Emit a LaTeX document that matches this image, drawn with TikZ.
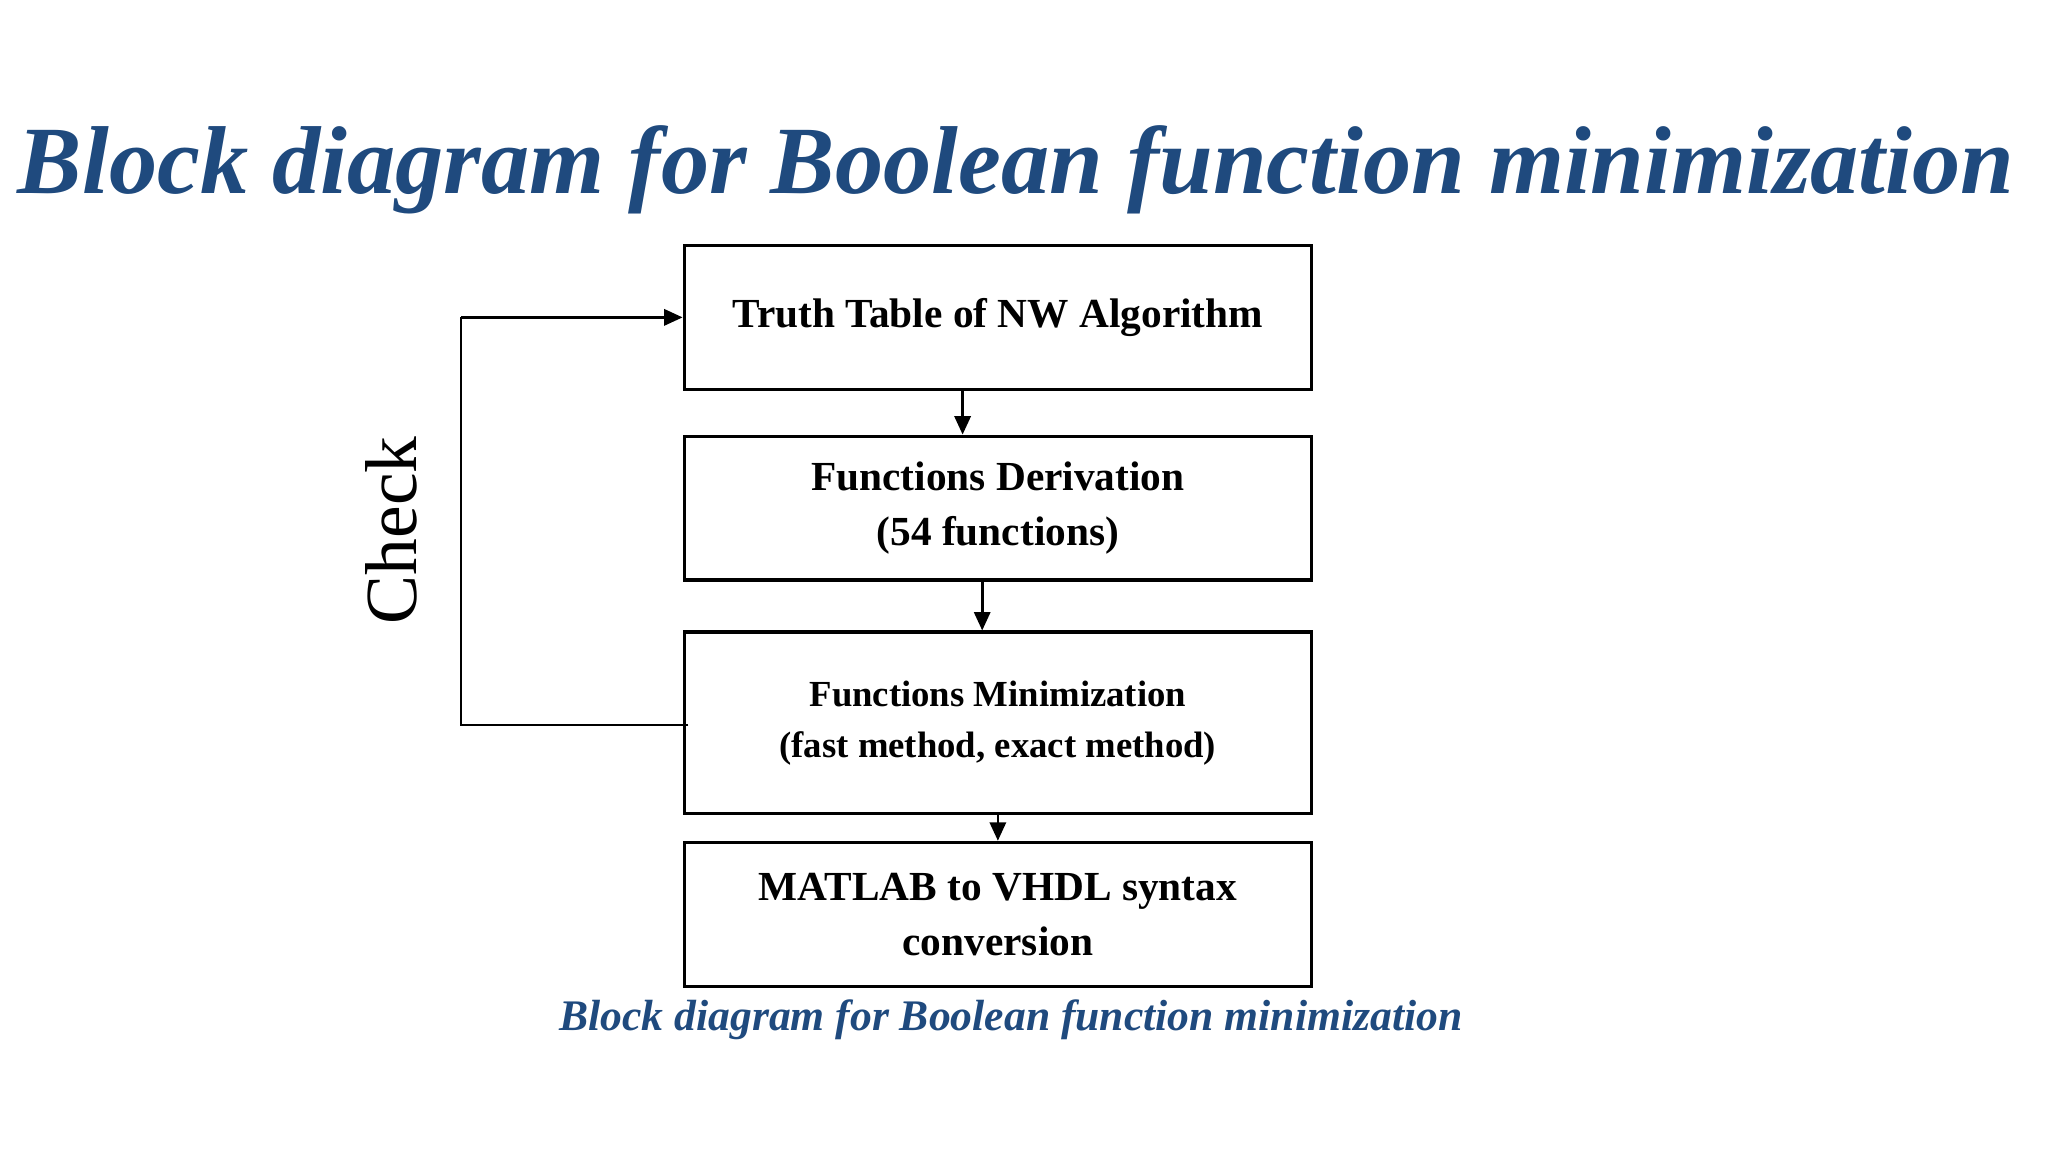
\documentclass[tikz,border=0pt]{standalone}
\usepackage{fontspec}
\setmainfont{Liberation Serif}
\usetikzlibrary{arrows.meta}
\definecolor{tblue}{HTML}{1F4A7E}
\begin{document}
\begin{tikzpicture}[x=0.01cm,y=-0.01cm,
  blk/.style={draw,line width=0.7pt,minimum width=4.8cm,align=center,font=\fontsize{9}{12}\selectfont\bfseries,inner sep=0pt},
  conn/.style={-{Triangle[length=4pt,width=3.5pt]},line width=0.6pt}]
\useasboundingbox (0,0) rectangle (1568,882);
\node[font=\fontsize{21}{24}\selectfont\bfseries\itshape,text=tblue] (title) at (778,130) {Block diagram for Boolean function minimization};
\node[blk,minimum height=1.1cm] (b1) at (764,243) {Truth Table of NW Algorithm};
\node[blk,minimum height=1.1cm] (b2) at (764,389) {Functions Derivation\\(54 functions)};
\node[blk,minimum height=1.39cm,font=\fontsize{8}{11}\selectfont\bfseries] (b3) at (764,553.5) {Functions Minimization\\(fast method, exact method)};
\node[blk,minimum height=1.1cm] (b4) at (764,700) {MATLAB to VHDL syntax\\conversion};
\node[rotate=90,font=\fontsize{16}{18}\selectfont] (chk) at (300,406) {Check};
\node[font=\fontsize{9.5}{12}\selectfont\bfseries\itshape,text=tblue] (cap) at (774,781) {Block diagram for Boolean function minimization};
\coordinate (a1) at (737,298); \coordinate (a2) at (752,444); \coordinate (a3) at (764,623);
\draw[conn] (a1) -- (a1 |- b2.north);
\draw[conn] (a2) -- (a2 |- b3.north);
\draw[conn] (a3) -- (a3 |- b4.north);
\coordinate (f0) at (527,555); \coordinate (f1) at (353,555); \coordinate (f2) at (353,243);
\draw[line width=0.5pt] (f0) -- (f1) -- (f2);
\draw[conn] (f2) -- (b1.west);
\end{tikzpicture}
\end{document}
